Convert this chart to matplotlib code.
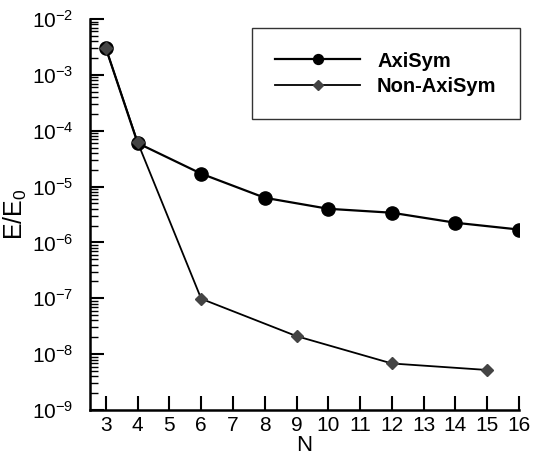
import numpy as np
import matplotlib
matplotlib.use("Agg")
import matplotlib.pyplot as plt

plt.rcParams['font.family'] = ['Liberation Sans', 'DejaVu Sans']
plt.rcParams['mathtext.fontset'] = 'custom'
plt.rcParams['mathtext.rm'] = 'Liberation Sans'
plt.rcParams['mathtext.it'] = 'Liberation Sans'

# data
n_axi = [3, 4, 6, 8, 10, 12, 14, 16]
e_axi = [3.0e-3, 6.0e-5, 1.7e-5, 6.3e-6, 4.0e-6, 3.4e-6, 2.25e-6, 1.7e-6]
n_non = [3, 4, 6, 9, 12, 15]
e_non = [3.0e-3, 6.2e-5, 9.8e-8, 2.1e-8, 6.8e-9, 5.2e-9]
xticks = list(range(3, 17))

fig = plt.figure(figsize=(5.34, 4.59), dpi=100)
ax = fig.add_axes([0.1685, 0.1068, 0.8034, 0.8518])

ax.plot(n_non, e_non, color='black', lw=1.3, marker='D', ms=6.5,
        mfc='#444444', mec='#444444', label='Non-AxiSym', zorder=3)
ax.plot(n_axi, e_axi, color='black', lw=1.6, marker='o', ms=9.5,
        mfc='black', mec='black', label='AxiSym', zorder=2)

ax.set_yscale('log')
ax.set_xlim(2.5, 16)
ax.set_ylim(1e-9, 1e-2)
ax.set_xticks(xticks)
ax.set_xticklabels([str(v) for v in xticks])
ax.set_yticks([10.0**k for k in range(-9, -1)])
ax.set_yticklabels([r'$10^{%d}$' % k for k in range(-9, -1)])

for s in ['top', 'right']:
    ax.spines[s].set_visible(False)
for s in ['left', 'bottom']:
    ax.spines[s].set_linewidth(1.8)

ax.tick_params(axis='both', which='major', direction='in', length=10, width=1.5,
               labelsize=15)
ax.tick_params(axis='x', which='major', pad=4)
ax.tick_params(axis='y', which='major', pad=12)
ax.tick_params(axis='y', which='minor', direction='in', length=6, width=1.0)
ax.tick_params(axis='x', which='minor', bottom=False)

ax.set_xlabel('N', fontsize=16)
ax.xaxis.set_label_coords(0.5, -0.064)
ax.set_ylabel(r'E/E$_0$', fontsize=18, labelpad=2)

handles, labels = ax.get_legend_handles_labels()
leg = ax.legend(handles[::-1], labels[::-1], loc='upper left',
                bbox_to_anchor=(0.378, 0.976), fancybox=False, edgecolor='black',
                prop={'weight': 'bold', 'size': 14.5}, handlelength=4.2,
                borderpad=1.15, handletextpad=0.85, labelspacing=0.3,
                borderaxespad=0, markerscale=0.75)
leg.get_frame().set_linewidth(1.0)

fig.savefig('out.png', dpi=100)
